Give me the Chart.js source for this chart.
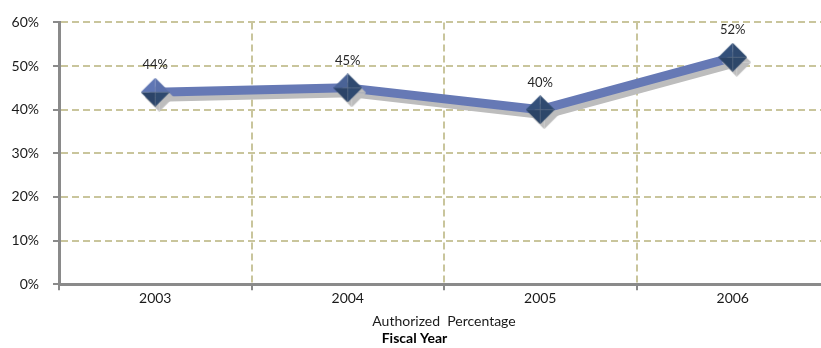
<!DOCTYPE html>
<html>
<head>
<meta charset="utf-8">
<script src="https://cdn.jsdelivr.net/npm/chart.js@4.4.1/dist/chart.umd.min.js"></script>
<style>
  html, body { margin: 0; padding: 0; background: #ffffff; overflow: hidden; }
  #chart { display: block; }
</style>
</head>
<body>
<canvas id="chart" width="834" height="348"></canvas>
<script>
// Fiscal years and the authorized percentage for each year
const years = ['2003', '2004', '2005', '2006'];
const authorizedPct = [44, 45, 40, 52];
const seriesName = 'Authorized  Percentage';
const axisTitle = 'Fiscal Year';
const yTickValues = [0, 10, 20, 30, 40, 50, 60];

const FONT = "Lato, 'Open Sans', sans-serif";
const GRID = '#c9c59c';
const AXIS = '#8a8a8a';

// Bevelled diamond marker built from four shaded faces
function diamond(size, faces) {
  const c = document.createElement('canvas');
  c.width = size; c.height = size;
  const g = c.getContext('2d');
  const h = size / 2;
  const pts = [[h, 0], [size, h], [h, size], [0, h]];
  const order = [[3, 0], [0, 1], [1, 2], [2, 3]]; // tl, tr, br, bl
  order.forEach((p, i) => {
    g.beginPath();
    g.moveTo(h, h);
    g.lineTo(pts[p[0]][0], pts[p[0]][1]);
    g.lineTo(pts[p[1]][0], pts[p[1]][1]);
    g.closePath();
    g.fillStyle = faces[i];
    g.fill();
  });
  return c;
}
const litMarker = diamond(29, ['#5f76b4', '#5a70ab', '#2f4a6f', '#2c4468']);
const midMarker = diamond(29, ['#4a6396', '#2f4a70', '#2f4a70', '#2c4468']);
const darkMarker = diamond(29, ['#33507a', '#2f4a70', '#2d4769', '#2b4466']);

// Grey drop shadow under the line and markers
const shadowPlugin = {
  id: 'dropShadow',
  beforeDatasetsDraw(chart) {
    const ctx = chart.ctx;
    ctx.save();
    ctx.shadowColor = '#bdbdbd';
    ctx.shadowOffsetX = 4;
    ctx.shadowOffsetY = 5;
    ctx.shadowBlur = 0;
  },
  afterDatasetsDraw(chart) {
    chart.ctx.restore();
  }
};

// Value labels above each marker
const valueLabels = {
  id: 'valueLabels',
  afterDatasetsDraw(chart) {
    const ctx = chart.ctx;
    const meta = chart.getDatasetMeta(0);
    const data = chart.data.datasets[0].data;
    ctx.save();
    ctx.font = '13px ' + FONT;
    ctx.fillStyle = '#262626';
    ctx.textAlign = 'center';
    ctx.textBaseline = 'middle';
    meta.data.forEach((pt, i) => {
      ctx.fillText(data[i] + '%', pt.x, pt.y - 27);
    });
    ctx.restore();
  }
};

new Chart(document.getElementById('chart'), {
  type: 'line',
  data: {
    labels: years,
    datasets: [{
      label: seriesName,
      data: authorizedPct,
      borderColor: '#6679b5',
      borderWidth: 9,
      borderJoinStyle: 'bevel',
      tension: 0,
      clip: false,
      pointStyle: [litMarker, midMarker, darkMarker, darkMarker],
      pointRadius: 14,
      pointHoverRadius: 14
    }]
  },
  options: {
    responsive: false,
    animation: false,
    events: [],
    layout: { autoPadding: false, padding: { top: 18, right: 5, left: 0, bottom: 0 } },
    plugins: {
      legend: { display: false },
      tooltip: { enabled: false },
      title: {
        display: true,
        position: 'bottom',
        text: axisTitle,
        color: '#000000',
        font: { family: FONT, size: 14, weight: 'bold' },
        padding: { top: 0, bottom: 1 }
      }
    },
    scales: {
      x: {
        offset: true,
        afterFit: s => { s.height = 46; },
        grid: {
          offset: true,
          color: GRID,
          lineWidth: 2,
          drawTicks: true,
          tickLength: 6,
          tickColor: AXIS,
          tickWidth: 2,
          tickBorderDash: []
        },
        border: { display: true, color: AXIS, width: 3, dash: [7, 4] },
        ticks: {
          color: '#1a1a1a',
          font: { family: FONT, size: 14 },
          padding: 0,
          maxRotation: 0
        },
        title: {
          display: true,
          text: seriesName,
          color: '#1a1a1a',
          font: { family: FONT, size: 14 },
          padding: { top: 0, bottom: 0 }
        }
      },
      y: {
        min: 0,
        max: 60,
        afterFit: s => { s.width = 59; },
        afterBuildTicks: s => { s.ticks = yTickValues.map(v => ({ value: v })); },
        grid: {
          color: GRID,
          lineWidth: 2,
          tickLength: 6,
          tickColor: AXIS,
          tickWidth: 2,
          tickBorderDash: []
        },
        border: { display: true, color: AXIS, width: 3, dash: [7, 4] },
        ticks: {
          color: '#1a1a1a',
          font: { family: FONT, size: 14 },
          padding: 14,
          callback: v => v + '%'
        }
      }
    }
  },
  plugins: [shadowPlugin, valueLabels]
});
</script>
</body>
</html>
